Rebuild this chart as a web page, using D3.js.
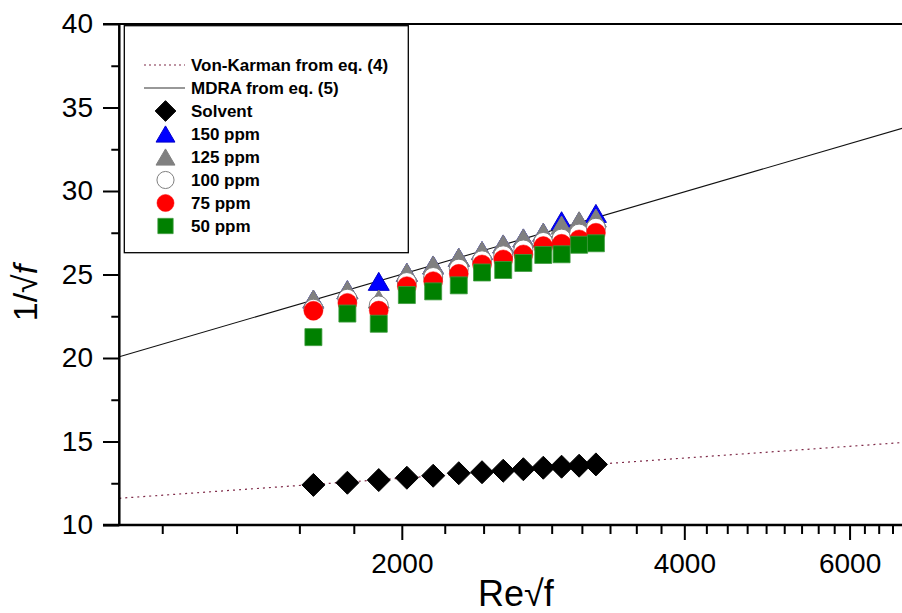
<!DOCTYPE html>
<html>
<head>
<meta charset="utf-8">
<script src="https://cdn.jsdelivr.net/npm/d3@7/dist/d3.min.js"></script>
<style>
  html, body { margin: 0; padding: 0; background: #ffffff; }
  svg { display: block; font-family: "Liberation Sans", Arial, sans-serif; }
</style>
</head>
<body>
<svg id="chart" width="902" height="613"></svg>
<script>
// Re*sqrt(f) of each measured point (shared by all series)
const reSqrtF = [1610, 1750, 1890, 2025, 2160, 2300, 2435, 2565, 2695, 2830, 2960, 3090, 3220];

// 1/sqrt(f) per series
const solvent = [12.40, 12.53, 12.69, 12.83, 12.95, 13.10, 13.16, 13.25, 13.34, 13.43, 13.49, 13.55, 13.63];
const ppm150  = [23.53, 24.09, 24.59, 25.13, 25.57, 26.03, 26.43, 26.83, 27.19, 27.53, 28.22, 28.20, 28.66];
const ppm125  = [23.53, 24.09, 23.53, 25.13, 25.57, 26.03, 26.43, 26.83, 27.19, 27.53, 27.96, 28.22, 28.38];
const ppm100  = [22.95, 23.55, 23.15, 24.55, 24.85, 25.35, 25.85, 26.15, 26.50, 26.95, 27.15, 27.45, 27.80];
const ppm75   = [22.83, 23.30, 22.84, 24.30, 24.60, 25.04, 25.60, 25.90, 26.20, 26.70, 26.84, 27.10, 27.50];
const ppm50   = [21.25, 22.66, 22.05, 23.77, 23.99, 24.35, 25.12, 25.27, 25.69, 26.17, 26.21, 26.78, 26.87];

// Reference lines (straight on the log axis): end points
const vonKarmanX = [1000, 7000];
const vonKarmanY = [11.60, 14.98];
const mdraX = [1000, 7000];
const mdraY = [20.08, 33.93];

// Axis ticks
const xDomain = [1000, 7000];
const yDomain = [10, 40];
const xMajorTicks = [2000, 4000, 6000];
const xMajorStep = 2000;
const xMinorPerStep = 9;
const yMajorTicks = [10, 15, 20, 25, 30, 35, 40];
const yMinorTicks = [12.5, 17.5, 22.5, 27.5, 32.5, 37.5];

const legendLabels = ["Von-Karman from eq. (4)", "MDRA from eq. (5)", "Solvent",
                      "150 ppm", "125 ppm", "100 ppm", "75 ppm", "50 ppm"];

// ---- layout ----
const svg = d3.select("#chart");
const plotLeft = 119.3, plotRight = 912.4, plotTop = 24, plotBottom = 525;

const x = d3.scaleLog().domain(xDomain).range([plotLeft, plotRight]);
const y = d3.scaleLinear().domain(yDomain).range([plotBottom, plotTop]);

// marker shapes
const shapes = {
  diamond: s => `M0,${-11.5*s}L${11.5*s},0L0,${11.5*s}L${-11.5*s},0Z`,
  triangle: s => `M0,${-9*s}L${10.5*s},${9*s}L${-10.5*s},${9*s}Z`,
  square: s => `M${-8.5*s},${-8.5*s}H${8.5*s}V${8.5*s}H${-8.5*s}Z`,
  circle: s => { const r = 9.5*s; return `M${r},0A${r},${r},0,1,1,${-r},0A${r},${r},0,1,1,${r},0Z`; }
};

const series = [
  { values: solvent, shape: "diamond",  fill: "#000000", stroke: "#000000", sw: 1 },
  { values: ppm150,  shape: "triangle", fill: "#0000ff", stroke: "#0000cc", sw: 1 },
  { values: ppm125,  shape: "triangle", fill: "#808080", stroke: "#808080", sw: 1 },
  { values: ppm100,  shape: "circle",   fill: "#ffffff", stroke: "#808080", sw: 1 },
  { values: ppm75,   shape: "circle",   fill: "#ff0000", stroke: "#ff0000", sw: 0.5 },
  { values: ppm50,   shape: "square",   fill: "#008000", stroke: "#3d9a3d", sw: 0.8 }
];

// ---- reference lines ----
const line = d3.line().x(d => x(d[0])).y(d => y(d[1]));
const plot = svg.append("g");

plot.append("path")
  .datum(d3.zip(vonKarmanX, vonKarmanY))
  .attr("d", line)
  .attr("fill", "none")
  .attr("stroke", "#7f2a48")
  .attr("stroke-width", 1.2)
  .attr("stroke-dasharray", "2,4");

plot.append("path")
  .datum(d3.zip(mdraX, mdraY))
  .attr("d", line)
  .attr("fill", "none")
  .attr("stroke", "#111111")
  .attr("stroke-width", 1.1);

// ---- markers ----
series.forEach(s => {
  plot.append("g")
    .selectAll("path")
    .data(d3.zip(reSqrtF, s.values))
    .join("path")
    .attr("transform", d => `translate(${x(d[0])},${y(d[1])})`)
    .attr("d", shapes[s.shape](1))
    .attr("fill", s.fill)
    .attr("stroke", s.stroke)
    .attr("stroke-width", s.sw);
});

// ---- axes ----
const xMinorTicks = [];
for (let a = 0; a < xDomain[1]; a += xMajorStep) {
  for (let k = 1; k < xMinorPerStep; k++) {
    const v = a + k * xMajorStep / xMinorPerStep;
    if (v > xDomain[0] && v < xDomain[1]) xMinorTicks.push(v);
  }
}

const axisStyle = g => {
  g.selectAll("line").attr("stroke", "#000").attr("stroke-width", 2);
  g.selectAll("text").attr("fill", "#000").attr("font-size", 28).attr("font-family", "Liberation Sans, Arial, sans-serif");
};

svg.append("g")
  .attr("transform", `translate(0,${plotBottom})`)
  .call(d3.axisBottom(x).tickValues(xMinorTicks).tickSize(9).tickFormat(""))
  .call(g => g.select(".domain").remove())
  .call(axisStyle);

svg.append("g")
  .attr("transform", `translate(0,${plotBottom})`)
  .call(d3.axisBottom(x).tickValues(xMajorTicks).tickSize(15).tickPadding(13).tickFormat(d3.format("d")))
  .call(g => g.select(".domain").remove())
  .call(axisStyle);

svg.append("g")
  .attr("transform", `translate(${plotLeft},0)`)
  .call(d3.axisLeft(y).tickValues(yMinorTicks).tickSize(8).tickFormat(""))
  .call(g => g.select(".domain").remove())
  .call(axisStyle);

svg.append("g")
  .attr("transform", `translate(${plotLeft},0)`)
  .call(d3.axisLeft(y).tickValues(yMajorTicks).tickSize(16.3).tickPadding(10).tickFormat(d3.format("d")))
  .call(g => g.select(".domain").remove())
  .call(axisStyle);

// axis lines and top frame
svg.append("line").attr("x1", plotLeft).attr("x2", plotLeft).attr("y1", plotTop).attr("y2", plotBottom)
  .attr("stroke", "#000").attr("stroke-width", 2.5);
svg.append("line").attr("x1", plotLeft - 16.3).attr("x2", plotRight).attr("y1", plotBottom).attr("y2", plotBottom)
  .attr("stroke", "#000").attr("stroke-width", 2.5);
svg.append("line").attr("x1", plotLeft - 16.3).attr("x2", plotRight).attr("y1", plotTop).attr("y2", plotTop)
  .attr("stroke", "#000").attr("stroke-width", 2.2);

// axis titles
const xTitle = svg.append("text")
  .attr("x", (plotLeft + plotRight) / 2)
  .attr("y", 606)
  .attr("text-anchor", "middle")
  .attr("font-size", 36)
  .attr("fill", "#000");
xTitle.append("tspan").text("Re\u221Af");

const yTitle = svg.append("text")
  .attr("transform", "translate(37,293) rotate(-90)")
  .attr("text-anchor", "middle")
  .attr("font-size", 34)
  .attr("fill", "#000");
yTitle.append("tspan").text("1/\u221A");
yTitle.append("tspan").attr("font-style", "italic").text("f");

// ---- legend ----
const legend = svg.append("g");
legend.append("rect")
  .attr("x", 124.3).attr("y", 25.7)
  .attr("width", 284).attr("height", 227)
  .attr("fill", "#ffffff")
  .attr("stroke", "#000").attr("stroke-width", 1.3);

const rowY = i => 65 + i * 23;
const symX = 165.5;

legend.append("line")
  .attr("x1", 144).attr("x2", 185).attr("y1", rowY(0)).attr("y2", rowY(0))
  .attr("stroke", "#7f2a48").attr("stroke-width", 1.2).attr("stroke-dasharray", "2,3");
legend.append("line")
  .attr("x1", 144).attr("x2", 185).attr("y1", rowY(1)).attr("y2", rowY(1))
  .attr("stroke", "#333").attr("stroke-width", 1.2);

series.forEach((s, i) => {
  legend.append("path")
    .attr("transform", `translate(${symX},${rowY(i + 2)})`)
    .attr("d", shapes[s.shape](0.9))
    .attr("fill", s.fill)
    .attr("stroke", s.stroke)
    .attr("stroke-width", s.sw);
});

legend.selectAll("text.lab")
  .data(legendLabels)
  .join("text")
  .attr("class", "lab")
  .attr("x", 191)
  .attr("y", (d, i) => rowY(i) + 6)
  .attr("font-size", 17)
  .attr("font-weight", "bold")
  .attr("fill", "#000")
  .text(d => d);
</script>
</body>
</html>
